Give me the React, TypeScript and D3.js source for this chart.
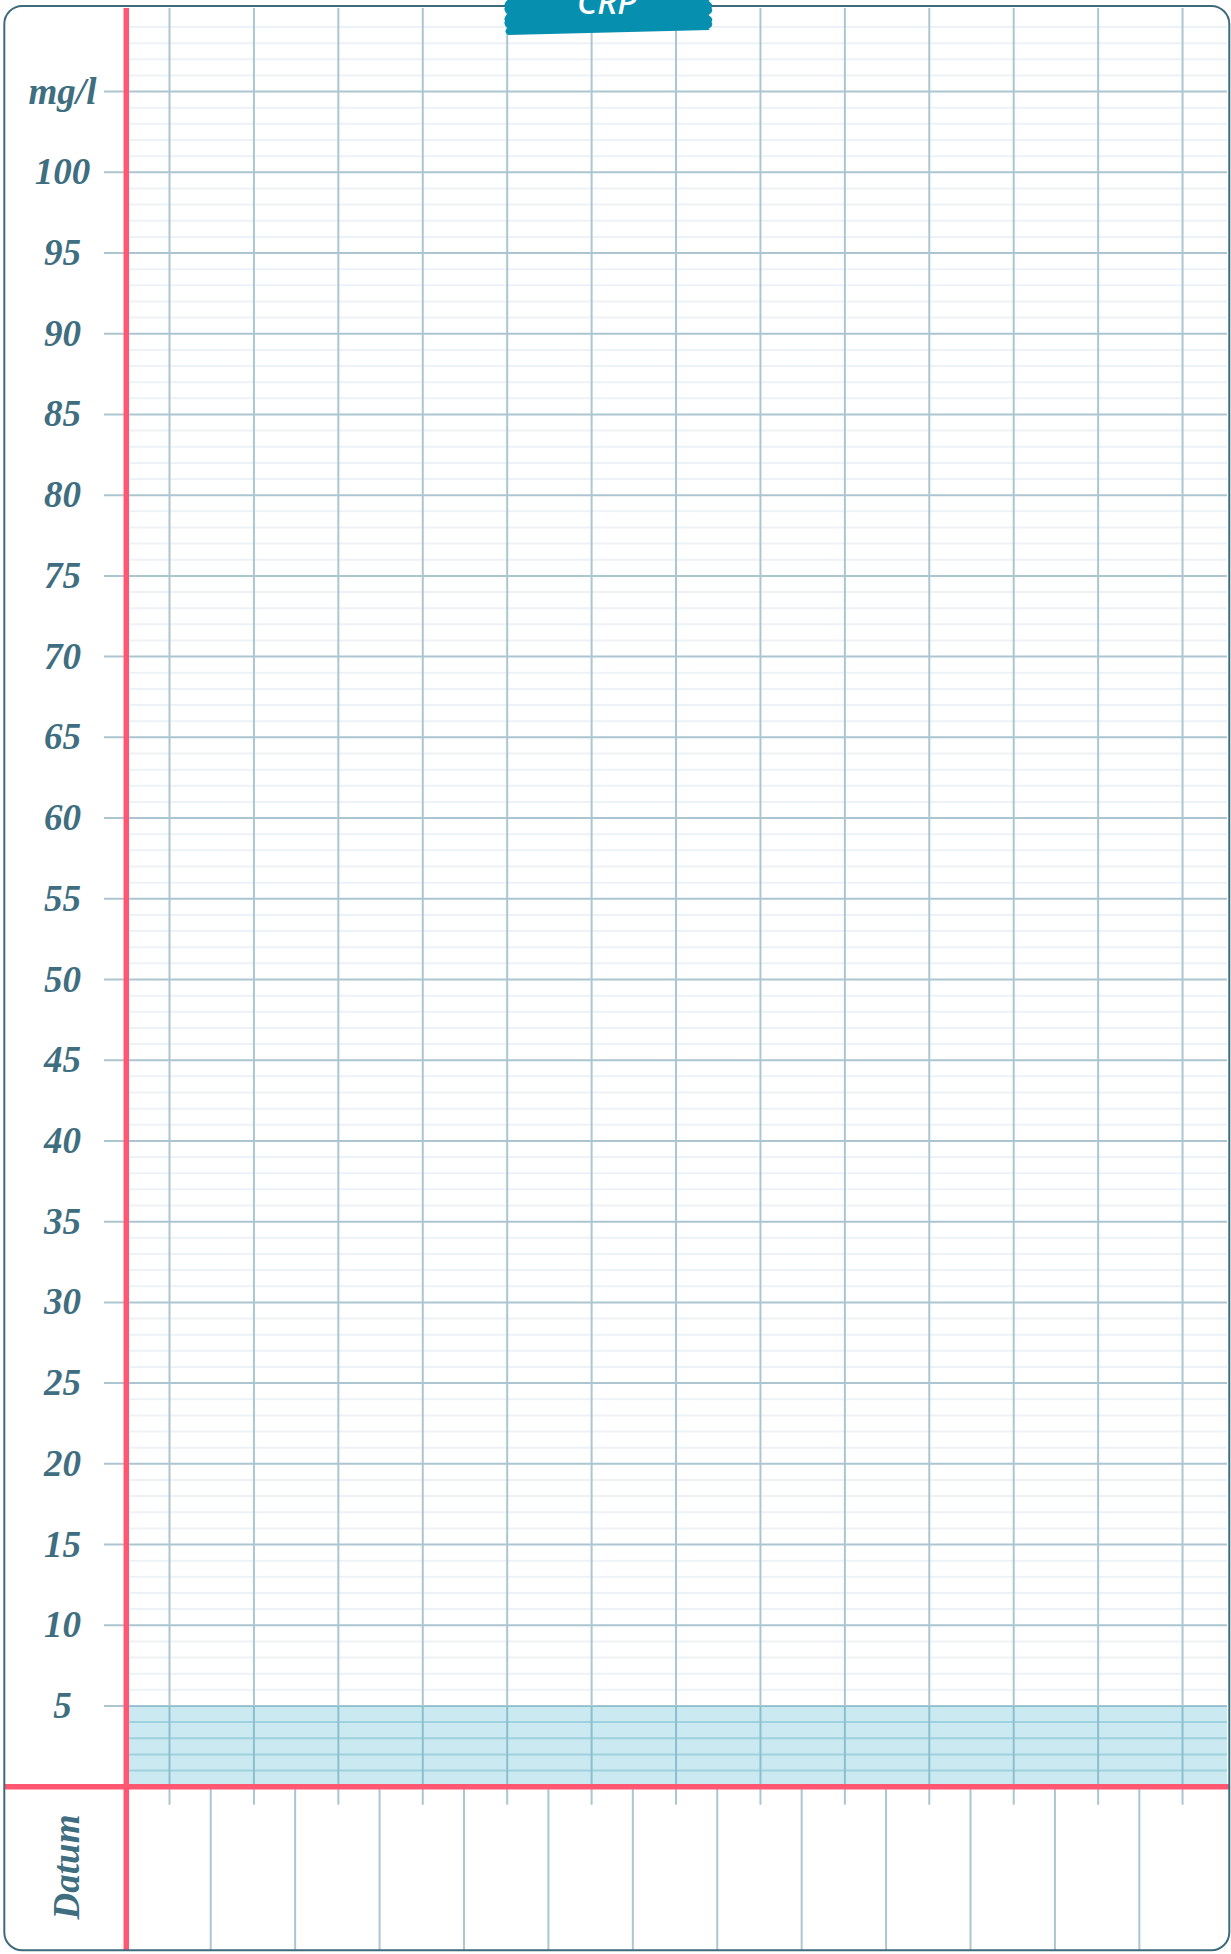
import React from 'react';
import * as d3 from 'd3';

// ---- data ----
const chartTitle = 'CRP';
const unitLabel = 'mg/l';
const xAxisLabel = 'Datum';
// 13 empty date columns (template, no measurements yet)
const dateSlots = ['d1', 'd2', 'd3', 'd4', 'd5', 'd6', 'd7', 'd8', 'd9', 'd10', 'd11', 'd12', 'd13'];
const crpValues: (number | null)[] = [null, null, null, null, null, null, null, null, null, null, null, null, null];
const yTickValues = [5, 10, 15, 20, 25, 30, 35, 40, 45, 50, 55, 60, 65, 70, 75, 80, 85, 90, 95, 100];
const unitTickValue = 105;
const normalRange = [0, 5];
const yMinorMax = 109;

// ---- layout ----
const W = 1231;
const H = 1954;
const FRAME = { x: 4.3, y: 6, w: 1225, h: 1944.3, r: 18 };
const AXIS_X = 126.3;
const PLOT_RIGHT = 1227;
const BOTTOM = 1950;
const LABEL_X = 62.5;

const COLORS = {
  frame: '#3e6b7b',
  text: '#3e6e80',
  grid: '#abc6d1',
  minor: '#edf2f6',
  shade: 'rgba(60,175,200,0.27)',
  red: '#ff5671',
  tab: '#078fb0',
};

const FONT = '"Liberation Serif", "DejaVu Serif", serif';

export default function App() {
  const y = d3.scaleLinear().domain([0, 100]).range([1786.7, 172.3]);
  const x = d3
    .scaleBand<string>()
    .domain(dateSlots)
    .range([AXIS_X, AXIS_X + 84.42 * dateSlots.length])
    .paddingInner(0)
    .paddingOuter(0);
  const bw = x.bandwidth();

  const minorValues = d3.range(1, yMinorMax + 1).filter((v) => v % 5 !== 0);
  const majorValues = [...yTickValues, unitTickValue];
  const y0 = y(0);

  // CRP tab shape with scalloped edges
  const tabLeft = 506;
  const tabRight = 710;
  const tabBottomL = 35;
  const tabBottomR = 30;
  const tab = d3.path();
  tab.moveTo(tabLeft + 2, -6);
  tab.lineTo(tabRight, -6);
  // right edge down with scallops
  {
    let yy = -6;
    const step = 7;
    let i = 0;
    while (yy < tabBottomR - step) {
      const nx = tabRight + (i % 2 === 0 ? -1.5 : 1.5);
      tab.quadraticCurveTo(tabRight + 4, yy + step / 2, nx, yy + step);
      yy += step;
      i++;
    }
    tab.lineTo(tabRight, tabBottomR);
  }
  tab.lineTo(tabLeft + 2, tabBottomL);
  {
    let yy = tabBottomL;
    const step = 7;
    let i = 0;
    while (yy > -6 + step) {
      const nx = tabLeft + (i % 2 === 0 ? 1.5 : -1.0);
      tab.quadraticCurveTo(tabLeft - 3, yy - step / 2, nx, yy - step);
      yy -= step;
      i++;
    }
    tab.lineTo(tabLeft + 2, -6);
  }
  tab.closePath();

  return (
    <div style={{ position: 'absolute', left: 0, top: 0 }}>
      <svg width={W} height={H} xmlns="http://www.w3.org/2000/svg" style={{ display: 'block', background: '#fff' }}>
        {/* minor horizontal lines */}
        <g>
          {minorValues.map((v) => (
            <line
              key={'mi' + v}
              x1={AXIS_X + 3}
              x2={PLOT_RIGHT}
              y1={y(v)}
              y2={y(v)}
              stroke={v < normalRange[1] ? '#c6dfe6' : COLORS.minor}
              strokeWidth={2}
            />
          ))}
        </g>
        {/* vertical lines at column centres */}
        <g>
          {dateSlots.map((d) => {
            const cx = (x(d) as number) + bw / 2 + 1;
            return (
              <line key={'vc' + d} x1={cx} x2={cx} y1={8} y2={y0 + 18} stroke={COLORS.grid} strokeWidth={2} />
            );
          })}
        </g>
        {/* column separators below the axis */}
        <g>
          {dateSlots.slice(1).map((d) => {
            const bx = x(d) as number;
            return <line key={'vb' + d} x1={bx} x2={bx} y1={y0} y2={BOTTOM} stroke={COLORS.grid} strokeWidth={2} />;
          })}
        </g>
        {/* major lines with ticks */}
        <g>
          {majorValues.map((v) => (
            <line key={'ma' + v} x1={104} x2={PLOT_RIGHT} y1={y(v)} y2={y(v)} stroke={COLORS.grid} strokeWidth={2} />
          ))}
        </g>
        {/* normal range shade */}
        <rect
          x={AXIS_X}
          y={y(normalRange[1])}
          width={PLOT_RIGHT - AXIS_X}
          height={y(normalRange[0]) - y(normalRange[1])}
          fill={COLORS.shade}
        />
        {/* data (empty template) */}
        <g>
          {crpValues.map((v, i) =>
            v == null ? null : (
              <circle key={'p' + i} cx={(x(dateSlots[i]) as number) + bw / 2} cy={y(v)} r={5} fill={COLORS.red} />
            )
          )}
        </g>
        {/* tick labels */}
        <g fontFamily={FONT} fontStyle="italic" fontWeight={700} fontSize={37} fill={COLORS.text} textAnchor="middle">
          {yTickValues.map((v) => (
            <text key={'t' + v} x={LABEL_X} y={y(v) + 12}>
              {v}
            </text>
          ))}
          <text x={LABEL_X} y={y(unitTickValue) + 12}>
            {unitLabel}
          </text>
          <text x={79} y={1867} transform="rotate(-90, 79, 1867)">
            {xAxisLabel}
          </text>
        </g>
        {/* red axes */}
        <line x1={AXIS_X} x2={AXIS_X} y1={8} y2={BOTTOM} stroke={COLORS.red} strokeWidth={5.5} />
        <line x1={FRAME.x} x2={FRAME.x + FRAME.w} y1={y0} y2={y0} stroke={COLORS.red} strokeWidth={5.5} />
        {/* frame */}
        <rect
          x={FRAME.x}
          y={FRAME.y}
          width={FRAME.w}
          height={FRAME.h}
          rx={FRAME.r}
          ry={FRAME.r}
          fill="none"
          stroke={COLORS.frame}
          strokeWidth={2}
        />
        {/* title tab */}
        <path d={tab.toString()} fill={COLORS.tab} />
        <text
          x={607}
          y={14}
          textAnchor="middle"
          fontFamily='"Noto Sans", "DejaVu Sans", sans-serif'
          fontStyle="italic"
          fontWeight={500}
          fontSize={34}
          fill="#ffffff"
        >
          {chartTitle}
        </text>
      </svg>
    </div>
  );
}
